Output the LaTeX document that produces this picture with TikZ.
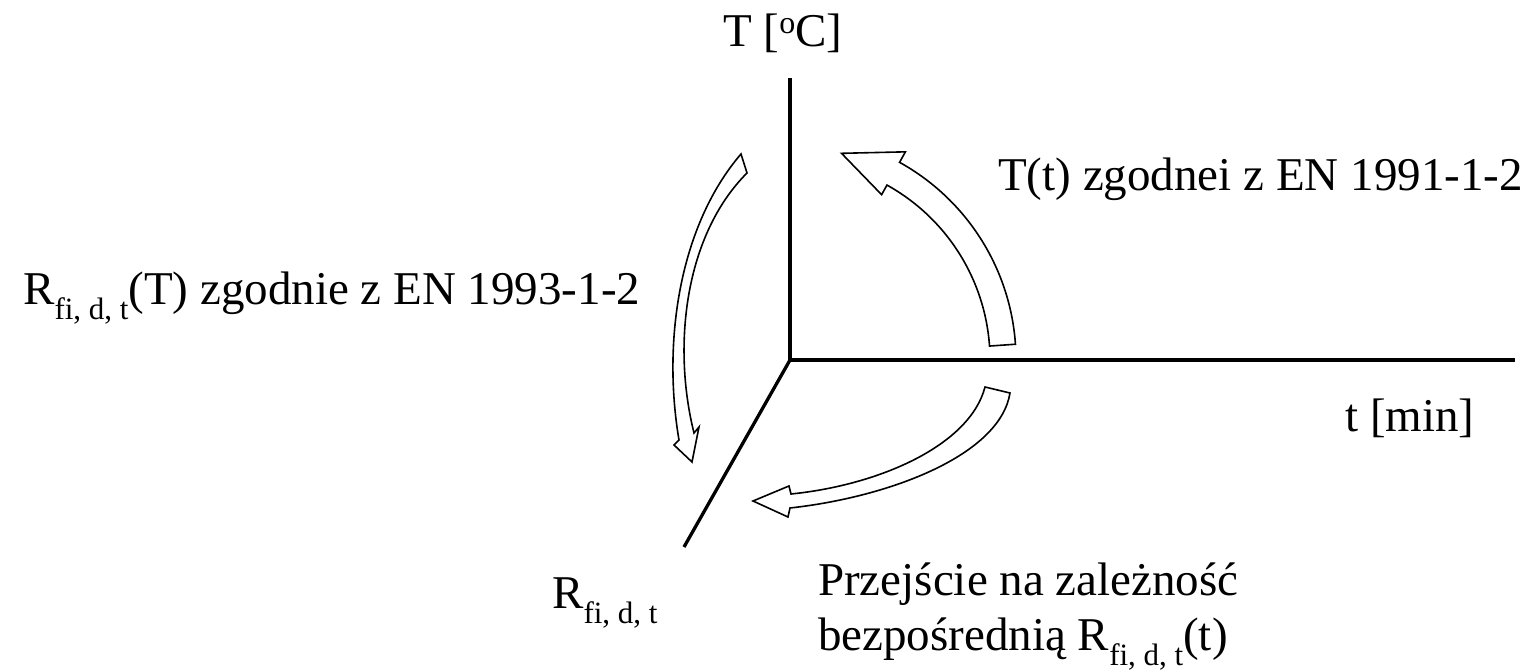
\documentclass[tikz,border=0pt]{standalone}
\usepackage{fontspec}
\setmainfont{Liberation Serif}
\usetikzlibrary{calc}
\newcommand\fdt{\raisebox{-0.33em}{\fontsize{31}{31}\selectfont fi, d, t}}
\newcommand\supo{\raisebox{13pt}{\fontsize{32}{32}\selectfont o}}
\begin{document}
\begin{tikzpicture}[x=1pt,y=-1pt,
  axis/.style={line width=3.3pt},
  blockarrow/.style={draw=black,fill=white,line width=1.6pt,line join=miter},
  lbl/.style={inner sep=0pt,font=\fontsize{47}{55}\selectfont}]
\useasboundingbox (0,0) rectangle (1532,671);
% axes
\coordinate (O) at (790,360);
\coordinate (Ttop) at (790,78);
\coordinate (tend) at (1515,360);
\coordinate (Rend) at (684,547);
\draw[axis] (Ttop) -- (O) -- (tend);
\draw[axis] (O) -- (Rend);
% arrow 1 (upper right)
\draw[blockarrow] ($(O)+(-4:226)$) arc[start angle=-4,end angle=-61,radius=226]
  -- ($(O)+(-61:238)$) -- ($(O)+(-76:213)$) -- ($(O)+(-61:189)$) -- ($(O)+(-61:200)$)
  arc[start angle=-61,end angle=-4,radius=200] -- cycle;
% arrow 2 (lower right)
\draw[blockarrow] (985,387) .. controls (970,445) and (880,485) .. (791,494)
  -- (789,486) -- (753,501) -- (788,517) -- (790,508)
  .. controls (890,497) and (1000,455) .. (1010,393) -- cycle;
% arrow 3 (left)
\draw[blockarrow] (741,154) .. controls (680,225) and (662,340) .. (679,440)
  -- (674,445) -- (692,462) -- (699,427) -- (694,433)
  .. controls (672,345) and (685,235) .. (747,173) -- cycle;
% labels
\node[lbl,anchor=base west] (Tlab) at (723,47) {T [\supo C]};
\node[lbl,anchor=base west] (tlab) at (1345,431) {t [min]};
\node[lbl,anchor=base west] (Rlab) at (552,608) {R\fdt};
\node[lbl,anchor=base west] (TtEN) at (998,191) {T(t) zgodnei z EN 1991-1-2};
\node[lbl,anchor=base west] (RTEN) at (23,304) {R\fdt(T) zgodnie z EN 1993-1-2};
\node[lbl,anchor=base west] (prz1) at (818,595) {Przejście na zależność};
\node[lbl,anchor=base west] (prz2) at (818,650) {bezpośrednią R\fdt(t)};
\end{tikzpicture}
\end{document}
